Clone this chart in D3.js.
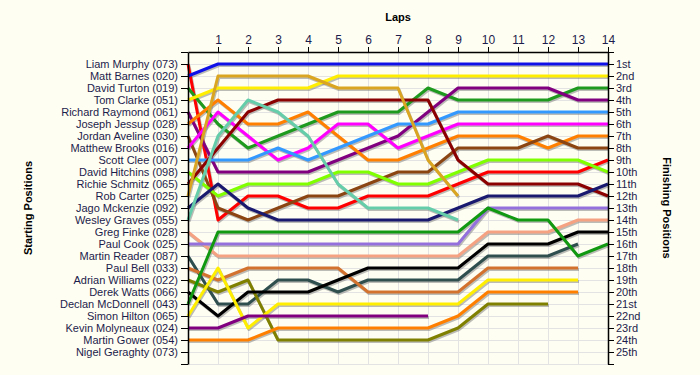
<!DOCTYPE html>
<html>
<head>
<meta charset="utf-8">
<script src="https://cdn.jsdelivr.net/npm/d3@7"></script>
<style>
  body { margin: 0; background: #fffef2; }
  svg { display: block; font-family: "Liberation Sans", Arial, sans-serif; }
</style>
</head>
<body>
<div id="chart"></div>
<script>
// starting grid (top to bottom)
const drivers = [
  "Liam Murphy (073)", "Matt Barnes (020)", "David Turton (019)", "Tom Clarke (051)",
  "Richard Raymond (061)", "Joseph Jessup (028)", "Jordan Aveline (030)", "Matthew Brooks (016)",
  "Scott Clee (007)", "David Hitchins (098)", "Richie Schmitz (065)", "Rob Carter (025)",
  "Jago Mckenzie (092)", "Wesley Graves (055)", "Greg Finke (028)", "Paul Cook (025)",
  "Martin Reader (087)", "Paul Bell (033)", "Adrian Williams (022)", "Derek Watts (066)",
  "Declan McDonnell (043)", "Simon Hilton (065)", "Kevin Molyneaux (024)", "Martin Gower (054)",
  "Nigel Geraghty (073)"
];

const lapLabels = [1, 2, 3, 4, 5, 6, 7, 8, 9, 10, 11, 12, 13, 14];

const finishLabels = [
  "1st", "2nd", "3rd", "4th", "5th", "6th", "7th", "8th", "9th", "10th",
  "11th", "12th", "13th", "14th", "15th", "16th", "17th", "18th", "19th", "20th",
  "21st", "22nd", "23rd", "24th", "25th"
];

// position at the end of each lap, lap 0 = grid
const lapPositions = [
  [1, 14, 12, 12, 13, 13, 12, 12, 12, 11, 10, 10, 10, 10, 9],
  [2, 1, 1, 1, 1, 1, 1, 1, 1, 1, 1, 1, 1, 1, 1],
  [3, 6, 8, 7, 6, 5, 5, 5, 3, 4, 4, 4, 4, 3, 3],
  [4, 3, 3, 3, 3, 2, 2, 2, 2, 2, 2, 2, 2, 2, 2],
  [5, 10, 10, 10, 10, 9, 8, 7, 5, 3, 3, 3, 3, 4, 4],
  [6, 4, 6, 6, 5, 7, 9, 9, 8, 7, 7, 7, 8, 7, 7],
  [7, 13, 14, 13, 12, 12, 11, 10, 10, 8, 8, 8, 7, 8, 8],
  [8, 5, 7, 9, 8, 6, 6, 8, 7, 6, 6, 6, 6, 6, 6],
  [9, 9, 9, 8, 9, 8, 7, 6, 6, 5, 5, 5, 5, 5, 5],
  [10, 12, 11, 11, 11, 10, 10, 11, 11, 10, 9, 9, 9, 9, 10],
  [11, 8, 5, 4, 4, 4, 4, 4, 4, 9, 11, 11, 11, 11, 12],
  [12, 2, 2, 2, 2, 3, 3, 3, 9, 12],
  [13, 11, 13, 14, 14, 14, 14, 14, 14, 13, 12, 12, 12, 12, 11],
  [14, 7, 4, 5, 7, 11, 13, 13, 13, 14],
  [15, 17, 17, 17, 17, 17, 17, 17, 17, 17, 15, 15, 15, 14, 14],
  [16, 16, 16, 16, 16, 16, 16, 16, 16, 16, 13, 13, 13, 13, 13],
  [17, 21, 21, 19, 19, 20, 19, 19, 19, 19, 17, 17, 17, 16],
  [18, 19, 18, 18, 18, 18, 20, 20, 20, 20, 18, 18, 18, 18],
  [19, 20, 19, 24, 24, 24, 24, 24, 24, 23, 21, 21, 21],
  [20, 22, 20, 20, 20, 19, 18, 18, 18, 18, 16, 16, 16, 15, 15],
  [21, 15, 15, 15, 15, 15, 15, 15, 15, 15, 13, 14, 14, 17, 16],
  [22, 18, 23, 21, 21, 21, 21, 21, 21, 21, 19, 19, 19, 19],
  [23, 23, 22, 22, 22, 22, 22, 22, 22],
  [24, 24, 24, 23, 23, 23, 23, 23, 23, 22, 20, 20, 20, 20],
  []
];

const lineColors = [
  "#ff0000", "#1010e8", "#1e9a1e", "#ffee00", "#800080", "#ff8000", "#8b4513", "#ff00ff",
  "#3399ff", "#80ff00", "#8b0000", "#daa520", "#191970", "#66cdaa", "#f4a282", "#9370db",
  "#2f4f4f", "#d2722e", "#808000", "#000000", "#119911", "#ffee00", "#800080", "#ff8000",
  "#888888"
];

const width = 700, height = 375;
const plotLeft = 188, plotRight = 608, plotTop = 52, plotBottom = 364;
const textColor = "#1c1c4c";

const svg = d3.select("#chart").append("svg")
  .attr("width", width)
  .attr("height", height);

svg.append("rect")
  .attr("width", width)
  .attr("height", height)
  .attr("fill", "#fffef2");

const x = d3.scaleLinear().domain([0, 14]).range([plotLeft, plotRight]);
const y = d3.scaleLinear().domain([0, 26]).range([plotTop, plotBottom]);

// grid
const grid = svg.append("g").attr("stroke", "#e3e3e3").attr("stroke-width", 1);
grid.selectAll("line.v")
  .data(lapLabels.slice(0, -1))
  .enter().append("line")
  .attr("class", "v")
  .attr("x1", d => x(d) + 0.5).attr("x2", d => x(d) + 0.5)
  .attr("y1", plotTop).attr("y2", plotBottom);
grid.selectAll("line.h")
  .data(d3.range(1, 27))
  .enter().append("line")
  .attr("class", "h")
  .attr("x1", plotLeft).attr("x2", plotRight)
  .attr("y1", d => y(d) + 0.5).attr("y2", d => y(d) + 0.5);

// lines
const line = d3.line()
  .x((d, i) => x(i))
  .y(d => y(d));

const series = drivers.map((name, i) => ({ name, color: lineColors[i], pos: lapPositions[i] }))
  .filter(d => d.pos.length > 1);

// grey drop shadow under every line
svg.append("g").selectAll("path")
  .data(series)
  .enter().append("path")
  .attr("d", d => line(d.pos))
  .attr("transform", "translate(1,1.5)")
  .attr("fill", "none")
  .attr("stroke", "#7a7a7a")
  .attr("stroke-opacity", 0.5)
  .attr("stroke-width", 3)
  .attr("stroke-linejoin", "round");

svg.append("g").selectAll("path")
  .data(series)
  .enter().append("path")
  .attr("d", d => line(d.pos))
  .attr("fill", "none")
  .attr("stroke", d => d.color)
  .attr("stroke-width", 3)
  .attr("stroke-linejoin", "round");

// axes
const yTicks = d3.range(0, 27);

const leftAxis = svg.append("g")
  .attr("transform", "translate(" + plotLeft + ",0)")
  .call(d3.axisLeft(y).tickValues(yTicks).tickSize(7).tickSizeOuter(0).tickPadding(3)
    .tickFormat(d => drivers[d - 1] || ""));

const rightAxis = svg.append("g")
  .attr("transform", "translate(" + plotRight + ",0)")
  .call(d3.axisRight(y).tickValues(yTicks).tickSize(6).tickSizeOuter(0).tickPadding(2)
    .tickFormat(d => finishLabels[d - 1] || ""));

const topAxis = svg.append("g")
  .attr("transform", "translate(0," + plotTop + ")")
  .call(d3.axisTop(x).tickValues(lapLabels).tickSize(5).tickSizeOuter(0).tickPadding(3)
    .tickFormat(d => d));

[leftAxis, rightAxis, topAxis].forEach(a => {
  a.selectAll("text")
    .attr("fill", textColor)
    .style("font-size", "11px")
    .style("font-family", "'Liberation Sans', Arial, sans-serif");
  a.select(".domain").attr("stroke", "#000").attr("stroke-width", 1.5);
  a.selectAll(".tick line").attr("stroke", "#000");
});
topAxis.selectAll("text").style("font-size", "12px");

// titles
svg.append("text")
  .attr("x", (plotLeft + plotRight) / 2)
  .attr("y", 21)
  .attr("text-anchor", "middle")
  .style("font-size", "11px")
  .style("font-weight", "bold")
  .text("Laps");

svg.append("text")
  .attr("transform", "translate(32," + (plotTop + plotBottom) / 2 + ") rotate(-90)")
  .attr("text-anchor", "middle")
  .style("font-size", "11px")
  .style("font-weight", "bold")
  .text("Starting Positions");

svg.append("text")
  .attr("transform", "translate(663," + (plotTop + plotBottom) / 2 + ") rotate(90)")
  .attr("text-anchor", "middle")
  .style("font-size", "11px")
  .style("font-weight", "bold")
  .text("Finishing Positions");
</script>
</body>
</html>
